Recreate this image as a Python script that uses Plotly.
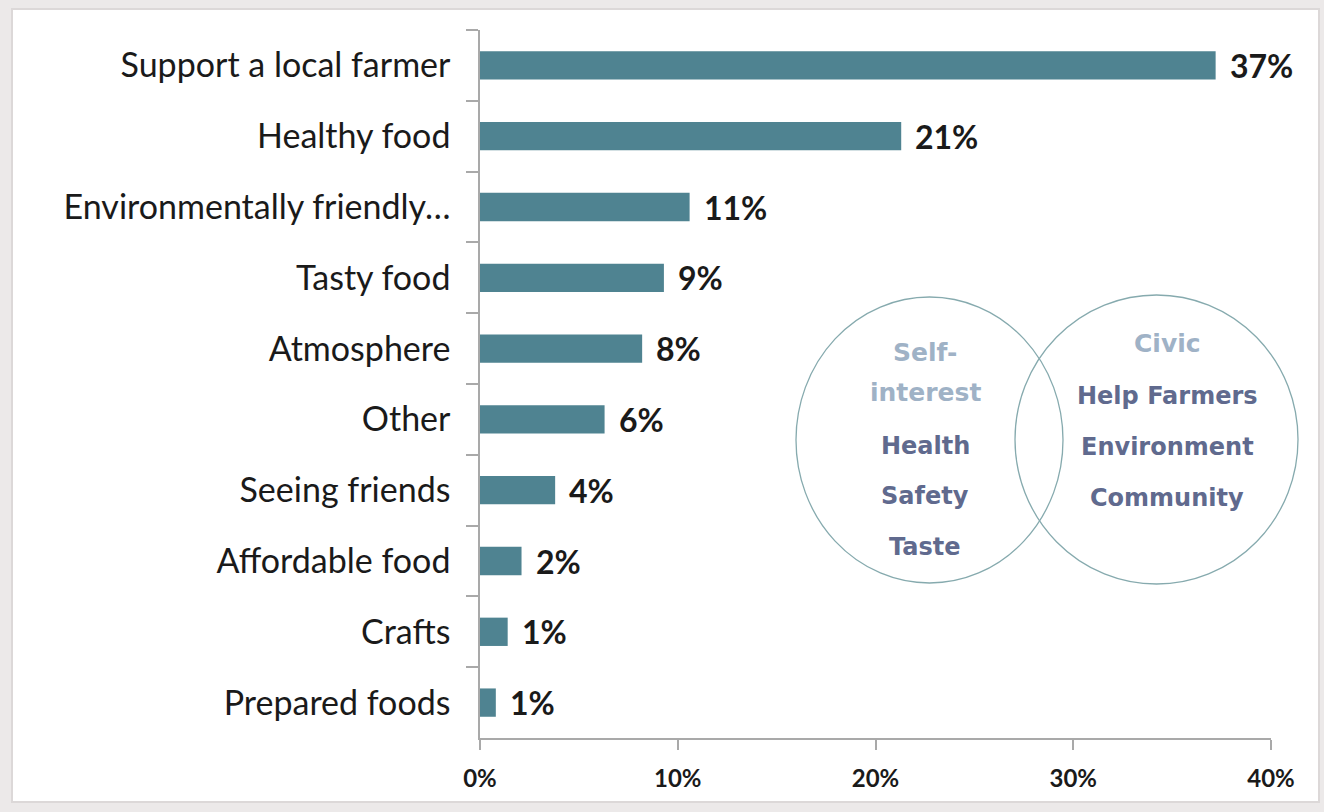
import plotly.graph_objects as go

categories = ["Support a local farmer", "Healthy food", "Environmentally friendly\u2026",
              "Tasty food", "Atmosphere", "Other", "Seeing friends",
              "Affordable food", "Crafts", "Prepared foods"]
values = [37.2, 21.3, 10.6, 9.3, 8.2, 6.3, 3.8, 2.1, 1.4, 0.8]
labels = ["37%", "21%", "11%", "9%", "8%", "6%", "4%", "2%", "1%", "1%"]
x_ticks = [0, 10, 20, 30, 40]
x_ticklabels = ["0%", "10%", "20%", "30%", "40%"]

self_title = ["Self-", "interest"]
self_items = ["Health", "Safety", "Taste"]
civic_title = ["Civic"]
civic_items = ["Help Farmers", "Environment", "Community"]

W, H = 1324, 812
ML, MR, MT, MB = 480, 53, 30, 74
PW = W - ML - MR
PH = H - MT - MB

def px_x(px):
    return (px - ML) / PW

def px_y(py):
    return (H - MB - py) / PH

fig = go.Figure()
fig.add_trace(go.Bar(
    y=categories, x=values, orientation="h",
    marker=dict(color="#4f8391", line=dict(width=0)),
    width=0.4, hoverinfo="skip",
))

annotations = []
for c, v, t in zip(categories, values, labels):
    annotations.append(dict(x=v, y=c, xref="x", yref="y", text="<b>%s</b>" % t,
                            showarrow=False, xanchor="left", yanchor="middle", xshift=12,
                            font=dict(family="Lato", size=32, color="#1a1a1a")))

light = "#9fb2c6"
dark = "#606a8e"
venn_font = "DejaVu Sans"

def venn_text(txt, px, py, color, size):
    return dict(x=px_x(px), y=px_y(py), xref="paper", yref="paper",
                xanchor="center", yanchor="middle",
                text="<b>%s</b>" % txt, showarrow=False,
                font=dict(family=venn_font, size=size, color=color))

for txt, py in zip(self_title, [352, 392]):
    annotations.append(venn_text(txt, 925, py, light, 25))
for txt, py in zip(self_items, [446, 496, 547]):
    annotations.append(venn_text(txt, 925, py, dark, 24))
for txt, py in zip(civic_title, [343]):
    annotations.append(venn_text(txt, 1167, py, light, 25))
for txt, py in zip(civic_items, [396, 447, 498]):
    annotations.append(venn_text(txt, 1167, py, dark, 24))

shapes = [
    dict(type="rect", xref="paper", yref="paper", layer="below",
         x0=px_x(12), x1=px_x(1319), y0=px_y(802), y1=px_y(9),
         fillcolor="white", line=dict(color="#dcd8d8", width=2)),
    dict(type="circle", xref="paper", yref="paper",
         x0=px_x(796), x1=px_x(1063), y0=px_y(583), y1=px_y(297),
         line=dict(color="#86aaae", width=1.3)),
    dict(type="circle", xref="paper", yref="paper",
         x0=px_x(1015), x1=px_x(1298), y0=px_y(584), y1=px_y(295),
         line=dict(color="#86aaae", width=1.3)),
]

fig.update_layout(
    width=W, height=H,
    margin=dict(l=ML, r=MR, t=MT, b=MB, pad=0),
    paper_bgcolor="#ece9e9", plot_bgcolor="white",
    showlegend=False,
    annotations=annotations,
    shapes=shapes,
    xaxis=dict(range=[0, 40], tickvals=x_ticks, ticktext=["<b>%s</b>" % t for t in x_ticklabels],
               showgrid=False, zeroline=False, showline=True, linecolor="#a9a9a9", linewidth=1.5,
               ticks="outside", ticklen=10, tickcolor="#a9a9a9", tickwidth=1.5,
               ticklabelstandoff=8,
               tickfont=dict(family="Lato", size=24, color="#1a1a1a"), fixedrange=True),
    yaxis=dict(categoryorder="array", categoryarray=categories, autorange="reversed",
               showgrid=False, zeroline=False, showline=True, linecolor="#a9a9a9", linewidth=1.5,
               ticks="outside", ticklen=12, tickcolor="#a9a9a9", tickwidth=1.5,
               tickson="boundaries", ticklabelstandoff=21,
               tickfont=dict(family="Lato", size=34, color="#1a1a1a"), fixedrange=True),
)

fig.write_html("out.html", config={"displayModeBar": False})
